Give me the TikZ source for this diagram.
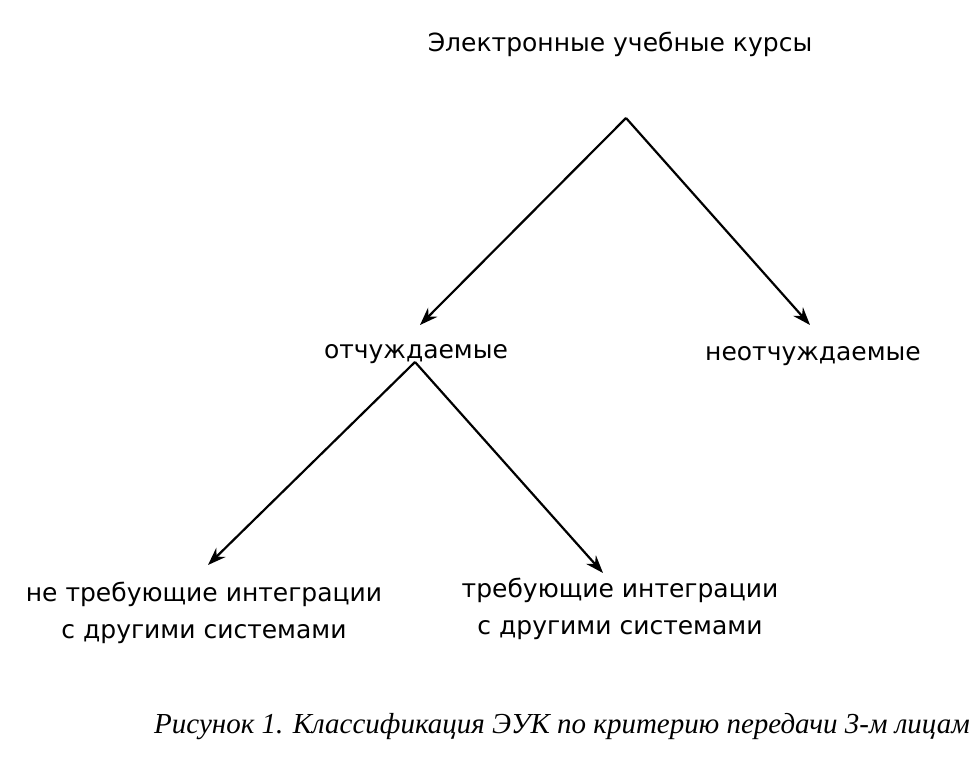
\documentclass[tikz,border=0pt]{standalone}
\usepackage{fontspec}
\setmainfont{Liberation Serif}
\newfontfamily\diagsans{DejaVu Sans}
\usetikzlibrary{arrows.meta}
\begin{document}
\begin{tikzpicture}[x=1pt,y=-1pt,
  lbl/.style={font=\diagsans\fontsize{25}{37}\selectfont, inner sep=0pt, align=center, text=black, anchor=base},
  captext/.style={font=\itshape\fontsize{29}{30}\selectfont, inner sep=0pt, anchor=base east},
  conn/.style={line width=2.2pt, -{Stealth[length=18pt,width=13pt,inset=6pt]}}]
\useasboundingbox (0,0) rectangle (974,767);
\node[lbl] (root) at (620,52) {Электронные учебные курсы};
\node[lbl] (otch) at (416,358) {отчуждаемые};
\node[lbl] (neotch) at (813,360) {неотчуждаемые};
\node[lbl] (nreq) at (204,638) {не требующие интеграции\\с другими системами};
\node[lbl] (req) at (620,634) {требующие интеграции\\с другими системами};
\node[captext] (caption) at (970,733) {Рисунок 1. Классификация ЭУК по критерию передачи 3-м лицам};
\coordinate (a1) at (626,118);
\coordinate (a2) at (415,362);
\coordinate (t1) at (420,325);
\coordinate (t2) at (810,325);
\coordinate (t3) at (208,565);
\coordinate (t4) at (603,573);
\draw[conn] (a1) -- (t1);
\draw[conn] (a1) -- (t2);
\draw[conn] (a2) -- (t3);
\draw[conn] (a2) -- (t4);
\end{tikzpicture}
\end{document}
